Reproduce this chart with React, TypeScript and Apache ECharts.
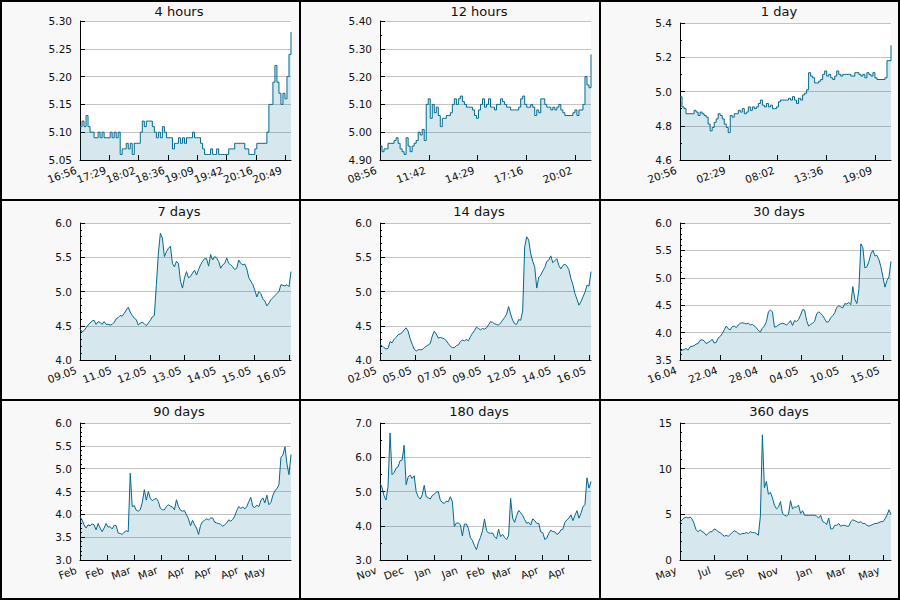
import React, { useEffect, useRef } from "react";
import * as echarts from "echarts";

const FONT = "DejaVu Sans";
const LINE_COLOR = "#006a91";

// Prices sampled evenly across each window, oldest first.
const hours4Values = [
  5.11, 5.12, 5.11, 5.13, 5.11, 5.10, 5.10, 5.09, 5.09, 5.10, 5.09, 5.10, 5.09, 5.09, 5.09, 5.10,
  5.09, 5.10, 5.09, 5.10, 5.06, 5.07, 5.07, 5.08, 5.07, 5.08, 5.06, 5.08, 5.08, 5.08, 5.10, 5.12,
  5.11, 5.12, 5.12, 5.12, 5.11, 5.10, 5.09, 5.10, 5.09, 5.11, 5.10, 5.09, 5.09, 5.09, 5.07, 5.08,
  5.08, 5.09, 5.08, 5.09, 5.08, 5.09, 5.09, 5.09, 5.10, 5.09, 5.09, 5.09, 5.08, 5.07, 5.06, 5.06,
  5.06, 5.07, 5.06, 5.06, 5.07, 5.06, 5.06, 5.06, 5.06, 5.06, 5.07, 5.07, 5.07, 5.08, 5.08, 5.08,
  5.08, 5.08, 5.07, 5.07, 5.06, 5.06, 5.06, 5.07, 5.08, 5.08, 5.08, 5.08, 5.08, 5.10, 5.15, 5.15,
  5.19, 5.22, 5.19, 5.17, 5.15, 5.17, 5.16, 5.20, 5.24, 5.28,
];
const hours4Labels = ["16:56", "17:29", "18:02", "18:36", "19:09", "19:42", "20:16", "20:49"];

const hours12Values = [
  4.95, 4.93, 4.94, 4.94, 4.96, 4.96, 4.96, 4.97, 4.98, 4.96, 4.94, 4.93, 4.92, 4.98, 4.95, 4.93,
  4.95, 4.96, 4.97, 5.00, 4.99, 5.01, 4.97, 5.10, 5.12, 5.05, 5.10, 5.07, 5.09, 5.06, 5.02, 5.05,
  5.05, 5.06, 5.06, 5.07, 5.10, 5.12, 5.10, 5.12, 5.13, 5.11, 5.10, 5.09, 5.09, 5.09, 5.08, 5.06,
  5.05, 5.08, 5.10, 5.12, 5.09, 5.10, 5.12, 5.09, 5.09, 5.08, 5.10, 5.10, 5.12, 5.11, 5.10, 5.09,
  5.09, 5.08, 5.08, 5.08, 5.08, 5.09, 5.12, 5.13, 5.10, 5.09, 5.09, 5.10, 5.09, 5.06, 5.08, 5.07,
  5.12, 5.12, 5.10, 5.09, 5.09, 5.08, 5.09, 5.08, 5.09, 5.10, 5.08, 5.07, 5.06, 5.06, 5.06, 5.06,
  5.07, 5.08, 5.06, 5.08, 5.08, 5.10, 5.20, 5.17, 5.16, 5.28,
];
const hours12Labels = ["08:56", "11:42", "14:29", "17:16", "20:02"];

const day1Values = [
  4.97, 4.91, 4.90, 4.87, 4.87, 4.87, 4.87, 4.89, 4.88, 4.86, 4.88, 4.87, 4.86, 4.85, 4.81, 4.77,
  4.79, 4.82, 4.84, 4.87, 4.86, 4.84, 4.81, 4.79, 4.76, 4.86, 4.85, 4.87, 4.87, 4.89, 4.88, 4.90,
  4.87, 4.88, 4.91, 4.89, 4.91, 4.90, 4.91, 4.93, 4.95, 4.92, 4.91, 4.93, 4.91, 4.92, 4.90, 4.90,
  4.91, 4.94, 4.95, 4.95, 4.95, 4.95, 4.96, 4.95, 4.97, 4.95, 4.93, 4.96, 4.95, 4.98, 4.99, 5.01,
  5.11, 5.09, 5.08, 5.05, 5.05, 5.06, 5.07, 5.10, 5.12, 5.09, 5.10, 5.08, 5.07, 5.09, 5.12, 5.10,
  5.09, 5.10, 5.10, 5.10, 5.10, 5.09, 5.09, 5.11, 5.11, 5.10, 5.09, 5.10, 5.08, 5.11, 5.10, 5.09,
  5.11, 5.08, 5.07, 5.07, 5.07, 5.07, 5.08, 5.18, 5.18, 5.27,
];
const day1Labels = ["20:56", "02:29", "08:02", "13:36", "19:09"];

const days7Values = [
  4.46, 4.41, 4.43, 4.47, 4.51, 4.54, 4.57, 4.58, 4.52, 4.56, 4.55, 4.52, 4.56, 4.52, 4.52, 4.51,
  4.52, 4.55, 4.60, 4.62, 4.65, 4.64, 4.68, 4.73, 4.77, 4.70, 4.65, 4.61, 4.59, 4.51, 4.54, 4.55,
  4.53, 4.50, 4.54, 4.58, 4.63, 4.65, 5.10, 5.56, 5.85, 5.78, 5.51, 5.58, 5.63, 5.66, 5.41, 5.36,
  5.44, 5.41, 5.15, 5.05, 5.20, 5.29, 5.20, 5.22, 5.27, 5.31, 5.24, 5.32, 5.39, 5.44, 5.48, 5.48,
  5.37, 5.54, 5.46, 5.51, 5.49, 5.44, 5.34, 5.39, 5.41, 5.49, 5.41, 5.39, 5.36, 5.32, 5.34, 5.46,
  5.41, 5.39, 5.40, 5.33, 5.20, 5.15, 5.10, 5.02, 4.92, 5.00, 4.97, 4.89, 4.86, 4.79, 4.83, 4.88,
  4.91, 4.94, 4.97, 5.00, 5.10, 5.09, 5.08, 5.10, 5.07, 5.29,
];
const days7Labels = ["09.05", "11.05", "12.05", "13.05", "14.05", "15.05", "16.05"];

const days14Values = [
  4.23, 4.21, 4.18, 4.16, 4.17, 4.27, 4.25, 4.30, 4.33, 4.37, 4.38, 4.40, 4.44, 4.47, 4.42, 4.31,
  4.23, 4.16, 4.13, 4.15, 4.15, 4.15, 4.18, 4.20, 4.22, 4.24, 4.35, 4.42, 4.38, 4.32, 4.33, 4.32,
  4.31, 4.28, 4.24, 4.20, 4.18, 4.18, 4.21, 4.22, 4.27, 4.29, 4.28, 4.30, 4.28, 4.34, 4.39, 4.43,
  4.48, 4.46, 4.44, 4.46, 4.45, 4.47, 4.51, 4.56, 4.55, 4.53, 4.52, 4.51, 4.54, 4.58, 4.62, 4.67,
  4.78, 4.67, 4.58, 4.53, 4.52, 4.59, 4.58, 4.72, 5.65, 5.80, 5.75, 5.55, 5.44, 5.36, 5.05, 5.21,
  5.24, 5.30, 5.35, 5.44, 5.46, 5.52, 5.42, 5.45, 5.48, 5.38, 5.33, 5.38, 5.40, 5.37, 5.32, 5.19,
  5.10, 4.97, 4.89, 4.80, 4.85, 4.92, 4.99, 5.09, 5.08, 5.29,
];
const days14Labels = ["02.05", "05.05", "07.05", "09.05", "12.05", "14.05", "16.05"];

const days30Values = [
  3.65, 3.68, 3.69, 3.71, 3.68, 3.74, 3.75, 3.76, 3.79, 3.80, 3.86, 3.87, 3.85, 3.80, 3.82, 3.84,
  3.88, 3.81, 3.82, 3.90, 3.93, 3.98, 4.05, 4.12, 4.07, 4.05, 4.11, 4.12, 4.09, 4.14, 4.17, 4.18,
  4.17, 4.16, 4.17, 4.14, 4.15, 4.12, 4.09, 4.04, 4.01, 4.08, 4.12, 4.20, 4.38, 4.41, 4.38, 4.10,
  4.11, 4.14, 4.16, 4.17, 4.16, 4.14, 4.17, 4.22, 4.13, 4.22, 4.20, 4.24, 4.32, 4.42, 4.41, 4.22,
  4.12, 4.15, 4.17, 4.21, 4.34, 4.38, 4.35, 4.31, 4.25, 4.19, 4.20, 4.27, 4.31, 4.36, 4.46, 4.49,
  4.47, 4.45, 4.53, 4.52, 4.55, 4.51, 4.84, 4.61, 4.53, 4.78, 5.62, 5.55, 5.18, 5.20, 5.30, 5.44,
  5.50, 5.40, 5.41, 5.33, 5.20, 5.01, 4.83, 4.95, 5.02, 5.30,
];
const days30Labels = ["16.04", "22.04", "28.04", "04.05", "10.05", "15.05"];

const days90Values = [
  3.95, 3.88, 3.77, 3.70, 3.77, 3.75, 3.79, 3.77, 3.66, 3.80, 3.70, 3.62, 3.70, 3.80, 3.72, 3.73,
  3.68, 3.76, 3.75, 3.59, 3.58, 3.56, 3.61, 3.64, 3.62, 4.90, 4.17, 4.19, 4.09, 4.07, 4.10, 4.26,
  4.54, 4.31, 4.50, 4.35, 4.30, 4.33, 4.35, 4.28, 4.13, 4.10, 4.10, 4.17, 4.21, 4.18, 4.16, 4.10,
  4.32, 4.17, 4.09, 4.07, 4.08, 3.99, 3.90, 3.75, 3.87, 3.77, 3.70, 3.56, 3.76, 3.84, 3.87, 3.90,
  3.88, 3.92, 3.92, 3.83, 3.81, 3.80, 3.78, 3.74, 3.77, 3.81, 3.88, 3.85, 3.89, 3.96, 4.08, 4.17,
  4.13, 4.16, 4.12, 4.17, 4.28, 4.37, 4.17, 4.15, 4.20, 4.17, 4.30, 4.36, 4.25, 4.42, 4.21, 4.26,
  4.42, 4.52, 4.56, 4.65, 5.25, 5.30, 5.48, 5.10, 4.87, 5.31,
];
const days90Labels = ["Feb", "Feb", "Mar", "Mar", "Apr", "Apr", "Apr", "May"];

const days180Values = [
  5.25, 5.12, 4.88, 4.75, 5.15, 6.71, 5.49, 5.55, 5.68, 5.72, 5.90, 5.92, 6.35, 5.20, 5.42, 5.48,
  5.38, 5.46, 5.00, 4.85, 4.78, 4.90, 5.18, 4.85, 4.82, 4.78, 4.88, 4.92, 4.98, 5.00, 4.75, 4.68,
  4.65, 4.72, 4.70, 4.85, 4.70, 3.98, 4.08, 4.08, 4.03, 3.70, 4.05, 4.05, 3.92, 3.65, 3.57, 3.42,
  3.30, 3.52, 3.66, 3.85, 4.20, 3.86, 3.79, 3.78, 3.79, 3.68, 3.62, 3.90, 3.68, 3.75, 3.66, 3.60,
  3.72, 4.80, 4.22, 4.10, 4.30, 4.45, 4.38, 4.30, 4.18, 4.07, 4.10, 4.02, 4.20, 4.15, 4.07, 4.07,
  3.82, 3.80, 3.60, 3.64, 3.78, 3.87, 3.83, 3.82, 3.75, 3.78, 3.88, 3.90, 4.10, 4.17, 4.22, 4.32,
  4.15, 4.30, 4.44, 4.22, 4.36, 4.55, 4.62, 5.40, 5.10, 5.29,
];
const days180Labels = ["Nov", "Dec", "Jan", "Jan", "Feb", "Mar", "Apr", "Apr"];

const days360Values = [
  4.1, 4.4, 4.6, 4.7, 4.6, 4.7, 4.5, 4.0, 3.3, 3.1, 3.3, 3.1, 3.0, 2.7, 2.9, 3.1,
  3.1, 3.4, 3.3, 3.1, 3.0, 2.8, 2.6, 2.7, 2.6, 2.8, 3.0, 3.2, 3.1, 2.9, 2.8, 2.9,
  2.9, 3.0, 2.9, 3.1, 3.0, 3.0, 2.9, 2.7, 4.8, 13.7, 7.9, 8.6, 7.2, 7.4, 6.8, 6.0,
  5.6, 5.8, 6.4, 5.1, 4.9, 4.8, 5.0, 6.5, 5.6, 5.8, 5.8, 6.0, 5.1, 5.4, 4.9, 4.9,
  4.9, 4.9, 4.9, 4.9, 4.8, 4.6, 4.9, 4.2, 4.1, 3.9, 4.6, 3.4, 3.4, 3.8, 3.8, 4.0,
  3.7, 3.8, 3.8, 3.7, 3.7, 4.2, 4.4, 4.3, 4.2, 4.1, 4.2, 4.0, 4.0, 3.8, 3.7, 3.8,
  3.9, 4.0, 4.0, 4.1, 4.2, 4.2, 4.5, 4.9, 5.5, 5.0,
];
const days360Labels = ["May", "Jul", "Sep", "Nov", "Jan", "Mar", "May"];

type Panel = {
  title: string;
  values: number[];
  span: number; // window length in minutes or days
  tickStep: number; // spacing of the dated ticks, same unit as span
  labels: string[];
  yMin: number;
  yMax: number;
  yStep: number;
  minorSplit: number;
  decimals: number;
  stepped: boolean;
  top: number;
};

const panels: Panel[] = [
  { title: "4 hours", values: hours4Values, span: 240, tickStep: 33.333, labels: hours4Labels, yMin: 5.05, yMax: 5.3, yStep: 0.05, minorSplit: 0, decimals: 2, stepped: true, top: 21 },
  { title: "12 hours", values: hours12Values, span: 720, tickStep: 166.67, labels: hours12Labels, yMin: 4.9, yMax: 5.4, yStep: 0.1, minorSplit: 2, decimals: 2, stepped: true, top: 21 },
  { title: "1 day", values: day1Values, span: 1440, tickStep: 333.33, labels: day1Labels, yMin: 4.6, yMax: 5.4, yStep: 0.2, minorSplit: 2, decimals: 1, stepped: true, top: 23 },
  { title: "7 days", values: days7Values, span: 7, tickStep: 1.157, labels: days7Labels, yMin: 4, yMax: 6, yStep: 0.5, minorSplit: 5, decimals: 1, stepped: false, top: 23 },
  { title: "14 days", values: days14Values, span: 14, tickStep: 2.314, labels: days14Labels, yMin: 4, yMax: 6, yStep: 0.5, minorSplit: 5, decimals: 1, stepped: false, top: 23 },
  { title: "30 days", values: days30Values, span: 30, tickStep: 5.77, labels: days30Labels, yMin: 3.5, yMax: 6, yStep: 0.5, minorSplit: 5, decimals: 1, stepped: false, top: 23 },
  { title: "90 days", values: days90Values, span: 90, tickStep: 11.5, labels: days90Labels, yMin: 3, yMax: 6, yStep: 0.5, minorSplit: 5, decimals: 1, stepped: false, top: 23 },
  { title: "180 days", values: days180Values, span: 180, tickStep: 23, labels: days180Labels, yMin: 3, yMax: 7, yStep: 1, minorSplit: 2, decimals: 1, stepped: false, top: 23 },
  { title: "360 days", values: days360Values, span: 360, tickStep: 57.7, labels: days360Labels, yMin: 0, yMax: 15, yStep: 5, minorSplit: 5, decimals: 0, stepped: false, top: 23 },
];

const CELL_W = 300;
const CELL_H = 200;
const PLOT_LEFT = 80;
const PLOT_W = 211;
const PLOT_BOTTOM = 160;

const labelStyle = {
  rotate: 20,
  margin: 8,
  padding: [0, 4, 0, 0],
  fontSize: 10.5,
  fontFamily: FONT,
  color: "#111",
  interval: 0,
  hideOverlap: false,
};

function buildOption(): echarts.EChartsOption {
  const grids: any[] = [];
  const xAxes: any[] = [];
  const yAxes: any[] = [];
  const series: any[] = [];
  const graphics: any[] = [];

  panels.forEach((p, i) => {
    const col = i % 3;
    const row = Math.floor(i / 3);
    const ox = col * CELL_W;
    const oy = row * CELL_H;

    grids.push({
      left: ox + PLOT_LEFT,
      top: oy + p.top,
      width: PLOT_W,
      height: PLOT_BOTTOM - p.top,
      show: true,
      backgroundColor: "#ffffff",
      borderWidth: 0,
    });

    const tickValues = p.labels.map((_, k) => k * p.tickStep);
    // Neighbouring rotated labels touch, so alternate them over two bottom axes
    // to keep the layout from dropping any of them.
    const evenTicks = tickValues.filter((_, k) => k % 2 === 0);
    const oddTicks = tickValues.filter((_, k) => k % 2 === 1);
    const fmt = (v: number) => {
      const k = Math.round(v / p.tickStep);
      return p.labels[k] ?? "";
    };

    xAxes.push({
      gridIndex: i,
      type: "value",
      position: "bottom",
      min: 0,
      max: p.span,
      axisLine: { show: true, onZero: false, lineStyle: { color: "#000", width: 1 } },
      axisTick: { show: true, inside: true, length: 5, customValues: tickValues, lineStyle: { color: "#000" } },
      axisLabel: {
        ...labelStyle,
        customValues: evenTicks,
        showMinLabel: true,
        showMaxLabel: true,
        formatter: fmt,
      },
      splitLine: { show: false },
    });

    xAxes.push({
      gridIndex: i,
      type: "value",
      position: "bottom",
      offset: 0,
      min: 0,
      max: p.span,
      axisLine: { show: false, onZero: false },
      axisTick: { show: false },
      axisLabel: {
        ...labelStyle,
        customValues: oddTicks,
        showMinLabel: true,
        showMaxLabel: true,
        formatter: fmt,
      },
      splitLine: { show: false },
    });

    yAxes.push({
      gridIndex: i,
      type: "value",
      min: p.yMin,
      max: p.yMax,
      interval: p.yStep,
      axisLine: { show: true, onZero: false, lineStyle: { color: "#000", width: 1 } },
      axisTick: { show: true, inside: true, length: 5, lineStyle: { color: "#000" } },
      minorTick: {
        show: p.minorSplit > 0,
        splitNumber: p.minorSplit || 2,
        length: 2,
        lineStyle: { color: "#000" },
      },
      axisLabel: {
        margin: 8,
        fontSize: 10.5,
        fontFamily: FONT,
        color: "#111",
        interval: 0,
        showMinLabel: true,
        showMaxLabel: true,
        formatter: (v: number) => v.toFixed(p.decimals),
      },
      splitLine: { show: true, lineStyle: { color: "#c4c4c4", width: 1 } },
    });

    const n = p.values.length - 1;
    series.push({
      type: "line",
      xAxisIndex: i * 2,
      yAxisIndex: i,
      data: p.values.map((v, k) => [(k * p.span) / n, v]),
      step: p.stepped ? "end" : false,
      showSymbol: false,
      symbol: "none",
      lineStyle: { color: LINE_COLOR, width: 1 },
      areaStyle: { color: LINE_COLOR, opacity: 0.16, origin: "start" },
      silent: true,
    });

    graphics.push({
      type: "text",
      x: ox + 179,
      y: oy + 11,
      style: {
        text: p.title,
        fill: "#111",
        font: `13px "${FONT}"`,
        textAlign: "center",
        textVerticalAlign: "middle",
      },
      z: 50,
    });
  });

  // Frame: outer border and the separators between panels
  const bars = [
    { x: 0, y: 0, width: 2, height: 600 },
    { x: 299, y: 0, width: 2, height: 600 },
    { x: 599, y: 0, width: 2, height: 600 },
    { x: 898, y: 0, width: 2, height: 600 },
    { x: 0, y: 0, width: 900, height: 2 },
    { x: 0, y: 199, width: 900, height: 2 },
    { x: 0, y: 399, width: 900, height: 2 },
    { x: 0, y: 598, width: 900, height: 2 },
  ];
  bars.forEach((b) =>
    graphics.push({ type: "rect", shape: b, style: { fill: "#000" }, z: 100, silent: true })
  );

  return {
    animation: false,
    backgroundColor: "#f8f8f8",
    textStyle: { fontFamily: FONT },
    grid: grids,
    xAxis: xAxes,
    yAxis: yAxes,
    series,
    graphic: graphics,
  };
}

export default function App() {
  const ref = useRef<HTMLDivElement>(null);

  useEffect(() => {
    if (!ref.current) return;
    const chart = echarts.init(ref.current, undefined, { renderer: "svg" });
    chart.setOption(buildOption());
    return () => chart.dispose();
  }, []);

  return (
    <div
      ref={ref}
      style={{ position: "fixed", left: 0, top: 0, width: 900, height: 600 }}
    />
  );
}
